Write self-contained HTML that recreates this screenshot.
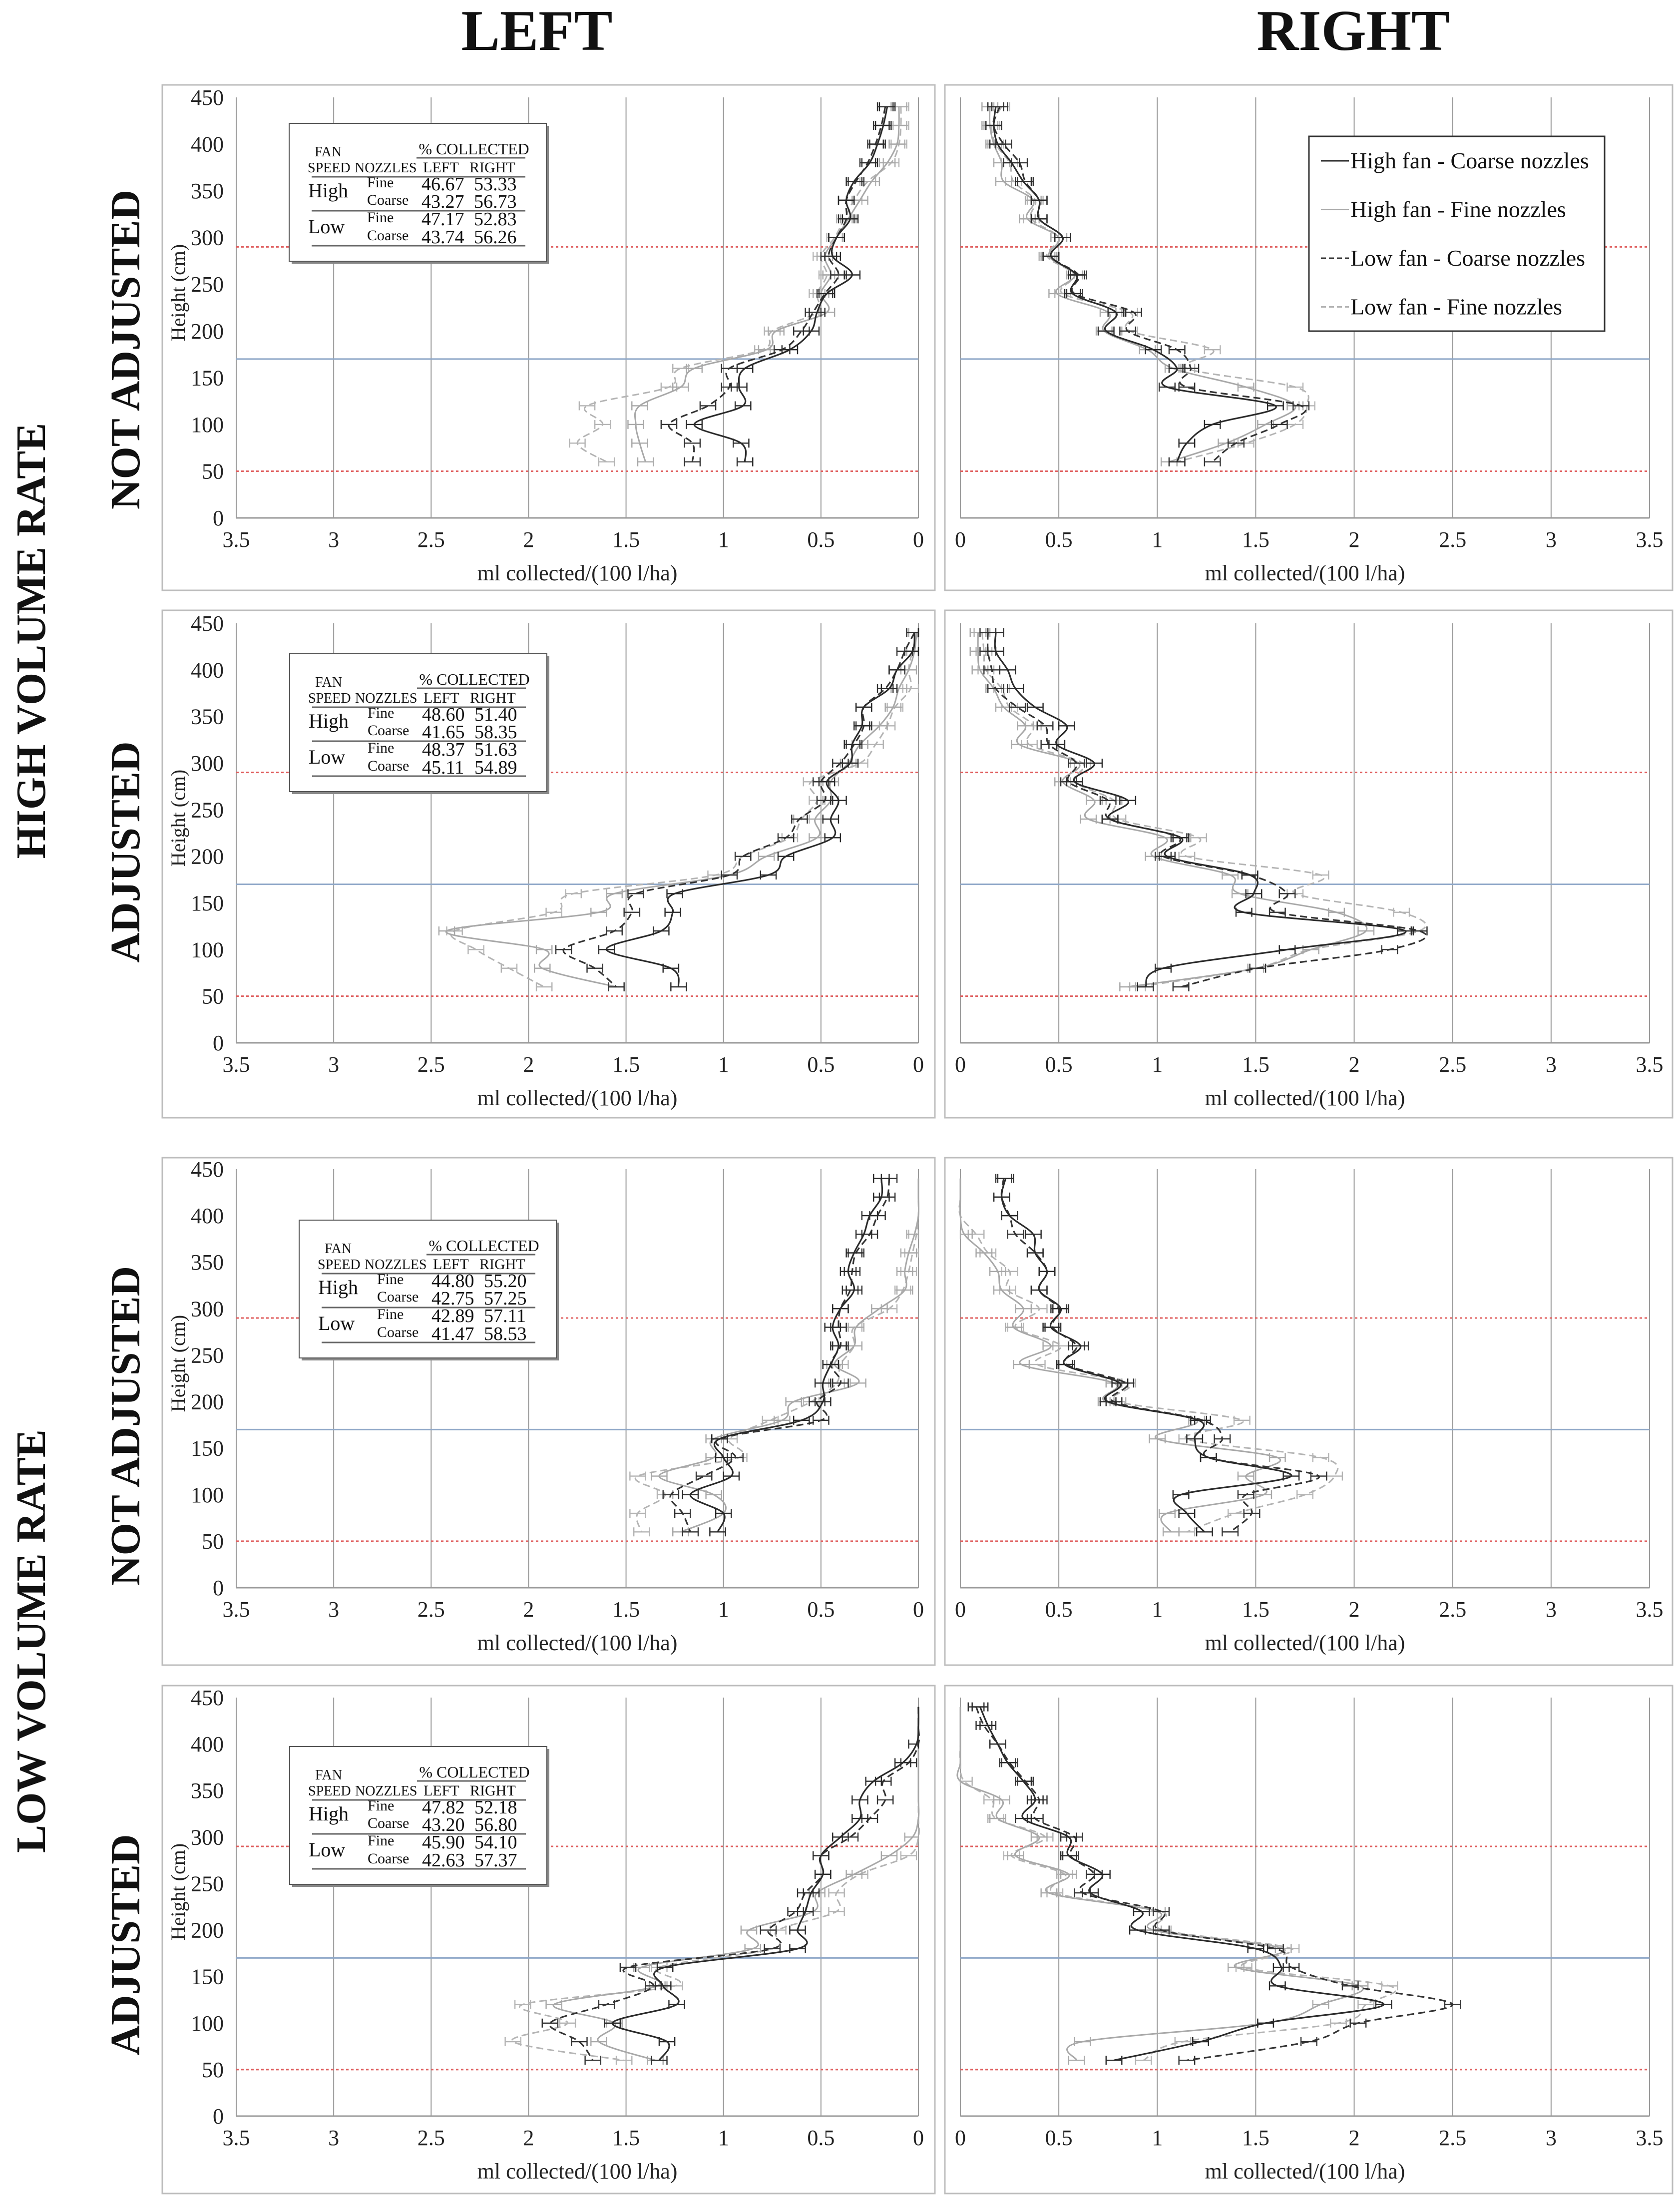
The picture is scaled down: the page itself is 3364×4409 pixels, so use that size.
<!DOCTYPE html>
<html><head><meta charset="utf-8"><title>Spray deposit profiles</title>
<style>
html,body{margin:0;padding:0;background:#fff;}
svg{display:block;font-family:"Liberation Serif",serif;}
</style></head>
<body>
<svg id="fig" xmlns="http://www.w3.org/2000/svg" width="3364" height="4409" viewBox="0 0 3364 4409">
<rect x="0" y="0" width="3364" height="4409" fill="#fff"/>
<text x="1075" y="100" font-size="116" font-weight="bold" text-anchor="middle" fill="#111">LEFT</text>
<text x="2710" y="100" font-size="116" font-weight="bold" text-anchor="middle" fill="#111">RIGHT</text>
<text transform="translate(90,1283) rotate(-90)" font-size="84" font-weight="bold" text-anchor="middle" fill="#111">HIGH VOLUME RATE</text>
<text transform="translate(90,3286) rotate(-90)" font-size="84" font-weight="bold" text-anchor="middle" fill="#111">LOW VOLUME RATE</text>
<text transform="translate(279,700) rotate(-90)" font-size="84" font-weight="bold" text-anchor="middle" fill="#111">NOT ADJUSTED</text>
<text transform="translate(279,1706) rotate(-90)" font-size="84" font-weight="bold" text-anchor="middle" fill="#111">ADJUSTED</text>
<text transform="translate(279,2855) rotate(-90)" font-size="84" font-weight="bold" text-anchor="middle" fill="#111">NOT ADJUSTED</text>
<text transform="translate(279,3894) rotate(-90)" font-size="84" font-weight="bold" text-anchor="middle" fill="#111">ADJUSTED</text>
</svg>
<script>
const heights = [440,420,400,380,360,340,320,300,280,260,240,220,200,180,160,140,120,100,80,60];
const xTicks = [0,0.5,1,1.5,2,2.5,3,3.5];
const xTickLabels = ["0","0.5","1","1.5","2","2.5","3","3.5"];
const yTicks = [0,50,100,150,200,250,300,350,400,450];
const refLines = [290,170,50];
const errHalf = 0.04;

const p1L_hc = [0.16,0.18,0.21,0.25,0.33,0.37,0.35,0.42,0.44,0.34,0.47,0.52,0.55,0.66,0.89,0.92,0.90,1.15,0.91,0.89];
const p1L_hf = [0.10,0.10,0.11,0.16,0.24,0.30,0.36,0.42,0.48,0.45,0.50,0.47,0.73,0.78,1.15,1.22,1.43,1.45,1.43,1.40];
const p1L_lc = [0.17,0.19,0.22,0.26,0.32,0.37,0.37,0.42,0.46,0.41,0.48,0.54,0.60,0.70,0.97,0.97,1.08,1.28,1.16,1.16];
const p1L_lf = [0.09,0.09,0.10,0.14,0.26,0.33,0.38,0.43,0.50,0.47,0.52,0.52,0.75,0.80,1.22,1.28,1.70,1.62,1.75,1.60];
const p1R_hc = [0.18,0.17,0.19,0.26,0.32,0.40,0.40,0.52,0.46,0.59,0.57,0.79,0.74,0.98,1.10,1.05,1.60,1.28,1.15,1.10];
const p1R_hf = [0.15,0.15,0.17,0.21,0.22,0.37,0.34,0.50,0.45,0.58,0.49,0.75,0.73,0.95,1.08,1.45,1.70,1.55,1.35,1.06];
const p1R_lc = [0.20,0.17,0.22,0.30,0.33,0.40,0.40,0.52,0.46,0.60,0.58,0.88,0.85,1.10,1.17,1.15,1.73,1.62,1.40,1.28];
const p1R_lf = [0.21,0.16,0.18,0.25,0.27,0.38,0.36,0.50,0.44,0.58,0.52,0.86,0.86,1.28,1.15,1.70,1.76,1.70,1.45,1.10];
const p2L_hc = [0.02,0.03,0.11,0.15,0.28,0.29,0.34,0.35,0.47,0.41,0.45,0.44,0.68,0.77,1.25,1.26,1.32,1.60,1.27,1.23];
const p2L_hf = [0.01,0.02,0.05,0.10,0.13,0.20,0.30,0.36,0.45,0.45,0.53,0.52,0.78,0.97,1.56,1.64,2.42,1.92,1.93,1.55];
const p2L_lc = [0.02,0.07,0.11,0.17,0.28,0.28,0.33,0.40,0.50,0.48,0.61,0.68,0.90,0.97,1.45,1.47,1.56,1.82,1.66,1.55];
const p2L_lf = [0.00,0.03,0.05,0.04,0.12,0.16,0.22,0.30,0.55,0.52,0.60,0.66,0.90,1.04,1.77,1.87,2.38,2.27,2.10,1.92];
const p2R_hc = [0.18,0.18,0.24,0.28,0.38,0.54,0.49,0.68,0.58,0.85,0.76,1.12,1.05,1.47,1.49,1.44,2.26,1.66,1.03,0.94];
const p2R_hf = [0.09,0.09,0.10,0.17,0.22,0.33,0.30,0.60,0.52,0.68,0.65,1.04,0.98,1.37,1.42,1.91,2.06,1.78,1.50,0.85];
const p2R_lc = [0.14,0.14,0.16,0.18,0.29,0.43,0.45,0.59,0.55,0.75,0.76,1.11,1.03,1.47,1.66,1.61,2.33,2.18,1.51,1.12];
const p2R_lf = [0.11,0.12,0.13,0.21,0.25,0.37,0.35,0.62,0.58,0.78,0.80,1.21,1.15,1.83,1.70,2.24,2.33,1.78,1.50,0.90];
const p3L_hc = [0.19,0.19,0.25,0.28,0.33,0.36,0.33,0.40,0.44,0.41,0.45,0.49,0.49,0.60,1.02,1.00,0.96,1.17,1.00,1.03];
const p3L_hf = [0.00,0.00,0.00,0.02,0.05,0.07,0.07,0.20,0.32,0.33,0.43,0.31,0.64,0.70,1.05,1.05,1.33,1.05,1.00,1.22];
const p3L_lc = [0.15,0.16,0.21,0.25,0.32,0.34,0.35,0.40,0.41,0.40,0.45,0.40,0.52,0.50,1.02,0.94,1.10,1.27,1.21,1.17];
const p3L_lf = [0.00,0.00,0.00,0.01,0.03,0.05,0.08,0.15,0.33,0.33,0.40,0.42,0.55,0.76,0.97,0.92,1.44,1.30,1.44,1.42];
const p3R_hc = [0.23,0.21,0.25,0.37,0.38,0.44,0.40,0.51,0.46,0.61,0.53,0.81,0.75,1.21,1.19,1.26,1.68,1.12,1.15,1.24];
const p3R_hf = [0.00,0.00,0.00,0.02,0.12,0.19,0.21,0.32,0.27,0.46,0.31,0.78,0.74,1.20,1.00,1.61,1.45,1.54,1.05,1.07];
const p3R_lc = [0.22,0.21,0.25,0.28,0.38,0.44,0.40,0.50,0.47,0.59,0.54,0.84,0.78,1.23,1.33,1.26,1.82,1.45,1.48,1.37];
const p3R_lf = [0.00,0.00,0.00,0.08,0.14,0.25,0.24,0.40,0.28,0.51,0.39,0.85,0.80,1.43,1.15,1.83,1.90,1.75,1.40,1.15];
const p4L_hc = [0.00,0.00,0.01,0.08,0.23,0.30,0.30,0.40,0.50,0.49,0.55,0.58,0.62,0.62,1.30,1.31,1.24,1.57,1.29,1.33];
const p4L_hf = [0.00,0.00,0.00,0.00,0.00,0.00,0.00,0.03,0.15,0.33,0.52,0.54,0.87,0.85,1.42,1.34,1.87,1.56,1.64,1.35];
const p4L_lc = [0.00,0.00,0.00,0.05,0.18,0.17,0.25,0.35,0.50,0.49,0.58,0.63,0.77,0.75,1.49,1.36,1.60,1.89,1.74,1.67];
const p4L_lf = [0.00,0.00,0.00,0.00,0.00,0.00,0.00,0.00,0.05,0.30,0.42,0.42,0.72,0.75,1.33,1.25,2.03,1.80,2.08,1.51];
const p4R_hc = [0.10,0.14,0.19,0.24,0.32,0.38,0.32,0.55,0.55,0.72,0.66,0.92,0.90,1.50,1.63,1.61,2.15,1.55,1.22,0.78];
const p4R_hf = [0.00,0.00,0.00,0.00,0.00,0.21,0.19,0.40,0.28,0.55,0.45,1.00,0.98,1.64,1.40,2.03,1.83,1.55,0.62,0.59];
const p4R_lc = [0.08,0.12,0.19,0.25,0.33,0.40,0.38,0.58,0.56,0.68,0.62,1.02,1.02,1.60,1.68,1.98,2.50,2.02,1.77,1.15];
const p4R_lf = [0.00,0.00,0.00,0.00,0.02,0.16,0.18,0.43,0.26,0.53,0.48,1.02,1.03,1.68,1.44,2.18,2.06,1.92,1.13,0.93];

const tableRows1 = [["46.67","53.33"],["43.27","56.73"],["47.17","52.83"],["43.74","56.26"]];
const tableRows2 = [["48.60","51.40"],["41.65","58.35"],["48.37","51.63"],["45.11","54.89"]];
const tableRows3 = [["44.80","55.20"],["42.75","57.25"],["42.89","57.11"],["41.47","58.53"]];
const tableRows4 = [["47.82","52.18"],["43.20","56.80"],["45.90","54.10"],["42.63","57.37"]];
const legendLabels = ["High fan - Coarse nozzles","High fan - Fine nozzles","Low fan - Coarse nozzles","Low fan - Fine nozzles"];

const NS = "http://www.w3.org/2000/svg";
const svg = document.getElementById('fig');
function mk(tag, attrs, parent){
  const e = document.createElementNS(NS, tag);
  for (const k in attrs) e.setAttribute(k, attrs[k]);
  (parent||svg).appendChild(e);
  return e;
}
const styles = {
  hc:{stroke:"#2a2a2a", dash:null, w:3.2},
  hf:{stroke:"#a8a8a8", dash:null, w:3},
  lc:{stroke:"#333", dash:"14,8", w:3.2},
  lf:{stroke:"#b4b4b4", dash:"14,8", w:3}
};

const rows = [
  {top:195, bot:1037, fTop:170, fBot:1182, tbl:tableRows1, tx:579, ty:247},
  {top:1248, bot:2088, fTop:1222, fBot:2238, tbl:tableRows2, tx:580, ty:1309},
  {top:2341, bot:3179, fTop:2318, fBot:3334, tbl:tableRows3, tx:599, ty:2443},
  {top:3399, bot:4237, fTop:3375, fBot:4392, tbl:tableRows4, tx:580, ty:3497}
];
const series = [
  {L:{hc:p1L_hc,hf:p1L_hf,lc:p1L_lc,lf:p1L_lf}, R:{hc:p1R_hc,hf:p1R_hf,lc:p1R_lc,lf:p1R_lf}},
  {L:{hc:p2L_hc,hf:p2L_hf,lc:p2L_lc,lf:p2L_lf}, R:{hc:p2R_hc,hf:p2R_hf,lc:p2R_lc,lf:p2R_lf}},
  {L:{hc:p3L_hc,hf:p3L_hf,lc:p3L_lc,lf:p3L_lf}, R:{hc:p3R_hc,hf:p3R_hf,lc:p3R_lc,lf:p3R_lf}},
  {L:{hc:p4L_hc,hf:p4L_hf,lc:p4L_lc,lf:p4L_lf}, R:{hc:p4R_hc,hf:p4R_hf,lc:p4R_lc,lf:p4R_lf}}
];

function smoothPath(pts){
  let d = "M" + pts[0][0].toFixed(1) + "," + pts[0][1].toFixed(1);
  for (let i=0;i<pts.length-1;i++){
    const p0 = pts[i-1]||pts[i], p1 = pts[i], p2 = pts[i+1], p3 = pts[i+2]||pts[i+1];
    const c1x = p1[0]+(p2[0]-p0[0])/6, c1y = p1[1]+(p2[1]-p0[1])/6;
    const c2x = p2[0]-(p3[0]-p1[0])/6, c2y = p2[1]-(p3[1]-p1[1])/6;
    d += " C"+c1x.toFixed(1)+","+c1y.toFixed(1)+" "+c2x.toFixed(1)+","+c2y.toFixed(1)+" "+p2[0].toFixed(1)+","+p2[1].toFixed(1);
  }
  return d;
}

function drawPanel(ri, side){
  const r = rows[ri];
  const isL = side === "L";
  const x0 = isL ? 1839 : 1923, x35 = isL ? 473 : 3303;
  const xs = v => x0 + (x35 - x0) * v / 3.5;
  const ys = h => r.bot - (r.bot - r.top) * h / 450;
  const tag = "row" + (ri+1) + (isL ? "-left" : "-right");
  const g = mk('g', {});
  
  
  const fr = mk('rect', {x: isL?325:1892, y:r.fTop, width: isL?1547:1457, height:r.fBot-r.fTop, fill:"none", stroke:"#bdbdbd", "stroke-width":3}, g);
  
  
  xTicks.forEach((t,i) => {
    if (t > 0) {
      const gl = mk('line', {x1:xs(t), x2:xs(t), y1:ys(450), y2:r.bot, stroke:"#9a9a9a", "stroke-width":2}, g);
      
      
    }
    const tl = mk('text', {x:xs(t), y:r.bot+58, "font-size":44, "text-anchor":"middle", fill:"#222"}, g);
    tl.textContent = xTickLabels[i];
    
    
  });
  const ax = mk('line', {x1:Math.min(xs(0),xs(3.5)), x2:Math.max(xs(0),xs(3.5)), y1:r.bot, y2:r.bot, stroke:"#9a9a9a", "stroke-width":3}, g);
  
  
  const vax = mk('line', {x1:xs(0), x2:xs(0), y1:ys(450), y2:r.bot, stroke:"#9a9a9a", "stroke-width":2}, g);
  
  
  if (isL) {
    const yax = mk('line', {x1:xs(3.5), x2:xs(3.5), y1:ys(450), y2:r.bot, stroke:"#9a9a9a", "stroke-width":2}, g);
    
    
    yTicks.forEach(t => {
      const yl = mk('text', {x:448, y:ys(t)+15, "font-size":44, "text-anchor":"end", fill:"#222"}, g);
      yl.textContent = String(t);
      
      
    });
    const yt = mk('text', {transform:"translate(370,"+((r.top+r.bot)/2-30)+") rotate(-90)", "font-size":40, "text-anchor":"middle", fill:"#222"}, g);
    yt.textContent = "Height (cm)";
    
    
  }
  const xt = mk('text', {x:(xs(0)+xs(3.5))/2, y:r.bot+125, "font-size":44, "text-anchor":"middle", fill:"#222"}, g);
  xt.textContent = "ml collected/(100 l/ha)";
  
  
  refLines.forEach(h => {
    const blue = h === 170;
    const rl = mk('line', {x1:Math.min(xs(0),xs(3.5)), x2:Math.max(xs(0),xs(3.5)), y1:ys(h), y2:ys(h), stroke: blue ? "#8fa8c8" : "#e06060", "stroke-width": 3, "stroke-dasharray": blue ? "none" : "5,5"}, g);
    
    
  });
  const sd = series[ri][side];
  ["lf","hf","lc","hc"].forEach(key => {
    const st = styles[key];
    const vals = sd[key];
    const pts = vals.map((v,i) => [xs(v), ys(heights[i])]);
    const p = mk('path', {d:smoothPath(pts), fill:"none", stroke:st.stroke, "stroke-width":st.w}, g);
    if (st.dash) p.setAttribute('stroke-dasharray', st.dash);
    
    
    vals.forEach((v,i) => {
      if (v <= 0) return;
      const y = ys(heights[i]);
      const xa = xs(Math.max(0, v - errHalf)), xb = xs(v + errHalf);
      const eb = mk('path', {d:"M"+xa+","+y+" H"+xb+" M"+xa+","+(y-9)+" V"+(y+9)+" M"+xb+","+(y-9)+" V"+(y+9), stroke:st.stroke, "stroke-width":2.4, fill:"none"}, g);
      
      
    });
  });
  if (isL) drawTable(ri, r.tx, r.ty, g);
}

function txt(parent, x, y, s, size, name, anchor){
  const t = mk('text', {x:x, y:y, "font-size":size, fill:"#111", "text-anchor":anchor||"start"}, parent);
  t.textContent = s;
  
  
  return t;
}
function drawTable(ri, tx, ty, parent){
  const g = mk('g', {transform:"translate("+tx+","+ty+")"}, parent);
  
  
  const sh = mk('rect', {x:5, y:5, width:515, height:276, fill:"#888"}, g);
  
  
  const bx = mk('rect', {x:0, y:0, width:515, height:276, fill:"#fff", stroke:"#555", "stroke-width":2}, g);
  
  
  txt(g, 78, 66, "FAN", 28, 'fan-header', "middle");
  txt(g, 370, 62, "% COLLECTED", 32, 'collected-header', "middle");
  txt(g, 37, 98, "SPEED", 28, 'speed-header');
  txt(g, 131, 98, "NOZZLES", 28, 'nozzles-header');
  txt(g, 268, 98, "LEFT", 30, 'left-header');
  txt(g, 361, 98, "RIGHT", 30, 'right-header');
  [[255,69],[45,107],[45,175],[45,245]].forEach(l => {
    const ln = mk('line', {x1:l[0], x2:473, y1:l[1], y2:l[1], stroke:"#666", "stroke-width":3}, g);
    
    
  });
  txt(g, 38, 148, "High", 40, 'high-fan-label');
  txt(g, 38, 220, "Low", 40, 'low-fan-label');
  const tbl = rows[ri].tbl;
  const rowY = [132, 167, 202, 238];
  const noz = ["Fine","Coarse","Fine","Coarse"];
  tbl.forEach((rw,i) => {
    txt(g, 156, rowY[i]-4, noz[i], 30, 'nozzle-type');
    txt(g, 265, rowY[i]+2, rw[0], 38, 'left-percent');
    txt(g, 370, rowY[i]+2, rw[1], 38, 'right-percent');
  });
}

for (let ri=0; ri<4; ri++){ drawPanel(ri, "L"); drawPanel(ri, "R"); }

const lg = mk('g', {});


const lbox = mk('rect', {x:2621, y:273, width:592, height:390, fill:"#fff", stroke:"#333", "stroke-width":3}, lg);


const legKeys = ["hc","hf","lc","lf"];
legendLabels.forEach((s,i) => {
  const st = styles[legKeys[i]];
  const y = 322 + i*97.5;
  const ls = mk('line', {x1:2645, x2:2701, y1:y, y2:y, stroke:st.stroke, "stroke-width":3}, lg);
  if (st.dash) ls.setAttribute('stroke-dasharray', "10,6");
  
  
  const t = mk('text', {x:2704, y:y+15, "font-size":46, fill:"#111"}, lg);
  t.textContent = s;
  
  
});
</script>
</body></html>
